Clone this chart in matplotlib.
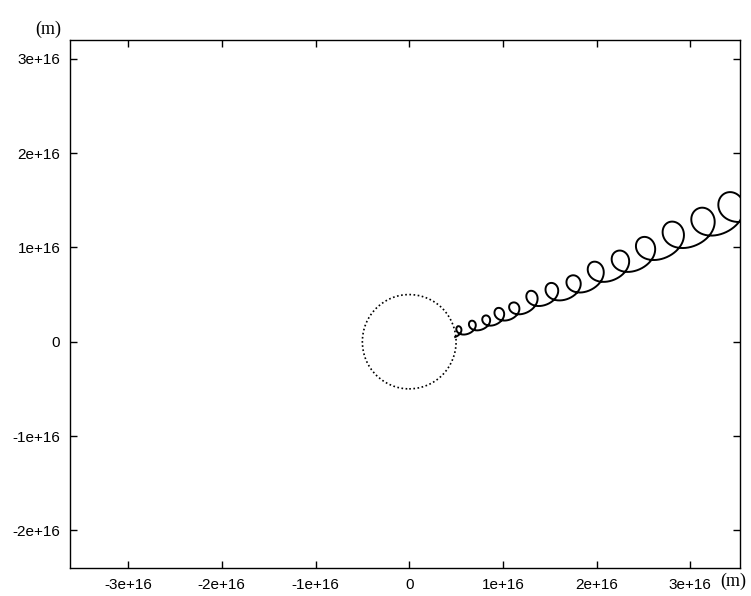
import numpy as np
import matplotlib
matplotlib.use("Agg")
import matplotlib.pyplot as plt
from matplotlib.patches import Circle

# units of 1e16 m
circle_r = 0.5
start_pt = (0.49, 0.05)
loop_x = [0.544, 0.683, 0.833, 0.971, 1.131, 1.323, 1.537, 1.771, 2.006, 2.273, 2.540, 2.839, 3.159, 3.458, 3.76]
loop_y = [0.112, 0.162, 0.212, 0.282, 0.332, 0.447, 0.517, 0.587, 0.722, 0.827, 0.962, 1.107, 1.242, 1.397, 1.55]
loop_r = [0.058, 0.064, 0.070, 0.081, 0.088, 0.099, 0.111, 0.122, 0.134, 0.146, 0.157, 0.175, 0.187, 0.198, 0.210]
flatten = 0.9    # bottom arcs are a little flatter than the loops on top
drift_skew = 0.25  # guiding centre moves a bit faster along the bottom arcs

xticks = [-3, -2, -1, 0, 1, 2, 3]
yticks = [-2, -1, 0, 1, 2, 3]
xtick_labels = ["-3e+16", "-2e+16", "-1e+16", "0", "1e+16", "2e+16", "3e+16"]
ytick_labels = ["-2e+16", "-1e+16", "0", "1e+16", "2e+16", "3e+16"]


def spiral_path():
    # gyration around a drifting guiding centre, loops
    ang = np.arctan2(loop_y[-1] - start_pt[1], loop_x[-1] - start_pt[0])
    u = np.array([np.cos(ang), np.sin(ang)])
    n = np.array([-np.sin(ang), np.cos(ang)])
    r0 = loop_r[0] * 0.5
    cx = [start_pt[0] + flatten * r0 * n[0]] + loop_x
    cy = [start_pt[1] + flatten * r0 * n[1]] + loop_y
    rr = [r0] + loop_r
    knots = [0.0] + [np.pi + 2 * np.pi * k for k in range(len(loop_x))]
    th = np.linspace(0, knots[-1], 6000)
    ts = th + drift_skew * np.sin(th)
    gx = np.interp(ts, knots, cx)
    gy = np.interp(ts, knots, cy)
    r = np.interp(th, knots, rr)
    w = (1 + flatten) / 2 - (1 - flatten) / 2 * np.cos(th)
    a = np.sin(th)
    b = -np.cos(th) * w
    px = gx + r * (a * u[0] + b * n[0])
    py = gy + r * (a * u[1] + b * n[1])
    return px, py


fig = plt.figure(figsize=(7.51, 5.96), dpi=100)
ax = fig.add_axes([70 / 751, 28 / 596, 670 / 751, 528 / 596])

ax.add_patch(Circle((0, 0), circle_r, fill=False, ls=(0, (1, 1.5)), lw=1.2, color="black"))
px, py = spiral_path()
ax.plot(px, py, color="black", lw=1.4)

ax.set_xlim(-3.62, 3.53)
ax.set_ylim(-2.40, 3.20)
ax.set_xticks(xticks)
ax.set_xticklabels(xtick_labels)
ax.set_yticks(yticks)
ax.set_yticklabels(ytick_labels)
ax.tick_params(direction="in", length=5, width=1, top=True, right=True,
               labelsize=11, pad=7)
for lab in ax.get_xticklabels() + ax.get_yticklabels():
    lab.set_family("Liberation Sans")
for s in ax.spines.values():
    s.set_linewidth(1)

fig.text(48 / 751, 1 - 29 / 596, "(m)", family="Liberation Serif", fontsize=13,
         ha="center", va="center")
fig.text(733 / 751, 1 - 581 / 596, "(m)", family="Liberation Serif", fontsize=13,
         ha="center", va="center")

fig.savefig("out.png", dpi=100)
